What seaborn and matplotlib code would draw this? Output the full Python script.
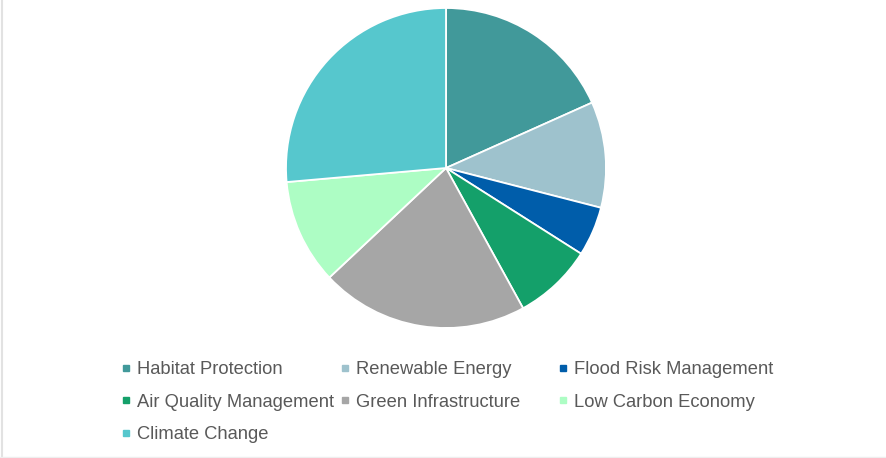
import matplotlib.pyplot as plt
import seaborn as sns
from matplotlib.lines import Line2D

sns.set_theme(style="white")
plt.rcParams['font.family'] = ['Liberation Sans', 'DejaVu Sans']

categories = ['Habitat Protection', 'Renewable Energy', 'Flood Risk Management',
              'Air Quality Management', 'Green Infrastructure', 'Low Carbon Economy',
              'Climate Change']
shares = [18.3, 10.7, 5.0, 8.0, 21.0, 10.6, 26.4]
colors = ['#41999A', '#9EC2CD', '#005DAA', '#14A06A', '#A6A6A6', '#ADFDC4', '#56C7CD']

fig = plt.figure(figsize=(8.87, 4.58), dpi=100)
ax = fig.add_axes([286 / 887, 1 - 328 / 458, 320 / 887, 320 / 458])
wedges, _ = ax.pie(shares, colors=colors, startangle=90, counterclock=False,
                   wedgeprops=dict(edgecolor='white', linewidth=1.3))
for w in wedges:
    w.set_clip_on(False)
ax.set_xlim(-1, 1)
ax.set_ylim(-1, 1)
ax.set_aspect('equal')
ax.axis('off')

# legend laid out row by row in three fixed-width columns
col_x = [121, 340, 558]
row_top = 361
for c in range(3):
    idx = list(range(c, len(categories), 3))
    handles = [Line2D([], [], ls='', marker='s', markersize=4.5,
                      color=colors[i]) for i in idx]
    labels = [categories[i] for i in idx]
    fig.legend(handles, labels, loc='upper left',
               bbox_to_anchor=(col_x[c] / 887, 1 - row_top / 458),
               frameon=False, fontsize=13.2, labelcolor='#595959',
               handlelength=0.55, handletextpad=0.3, labelspacing=0.85,
               borderpad=0, borderaxespad=0)

# faint frame on left and bottom edges
fig.add_artist(Line2D([2.5 / 887, 2.5 / 887], [0, 1], color='#E2E2E2', lw=1.5,
                      transform=fig.transFigure))
fig.add_artist(Line2D([0, 1], [1 / 458, 1 / 458], color='#EEEEEE', lw=1,
                      transform=fig.transFigure))

fig.savefig('out.png', dpi=100)
